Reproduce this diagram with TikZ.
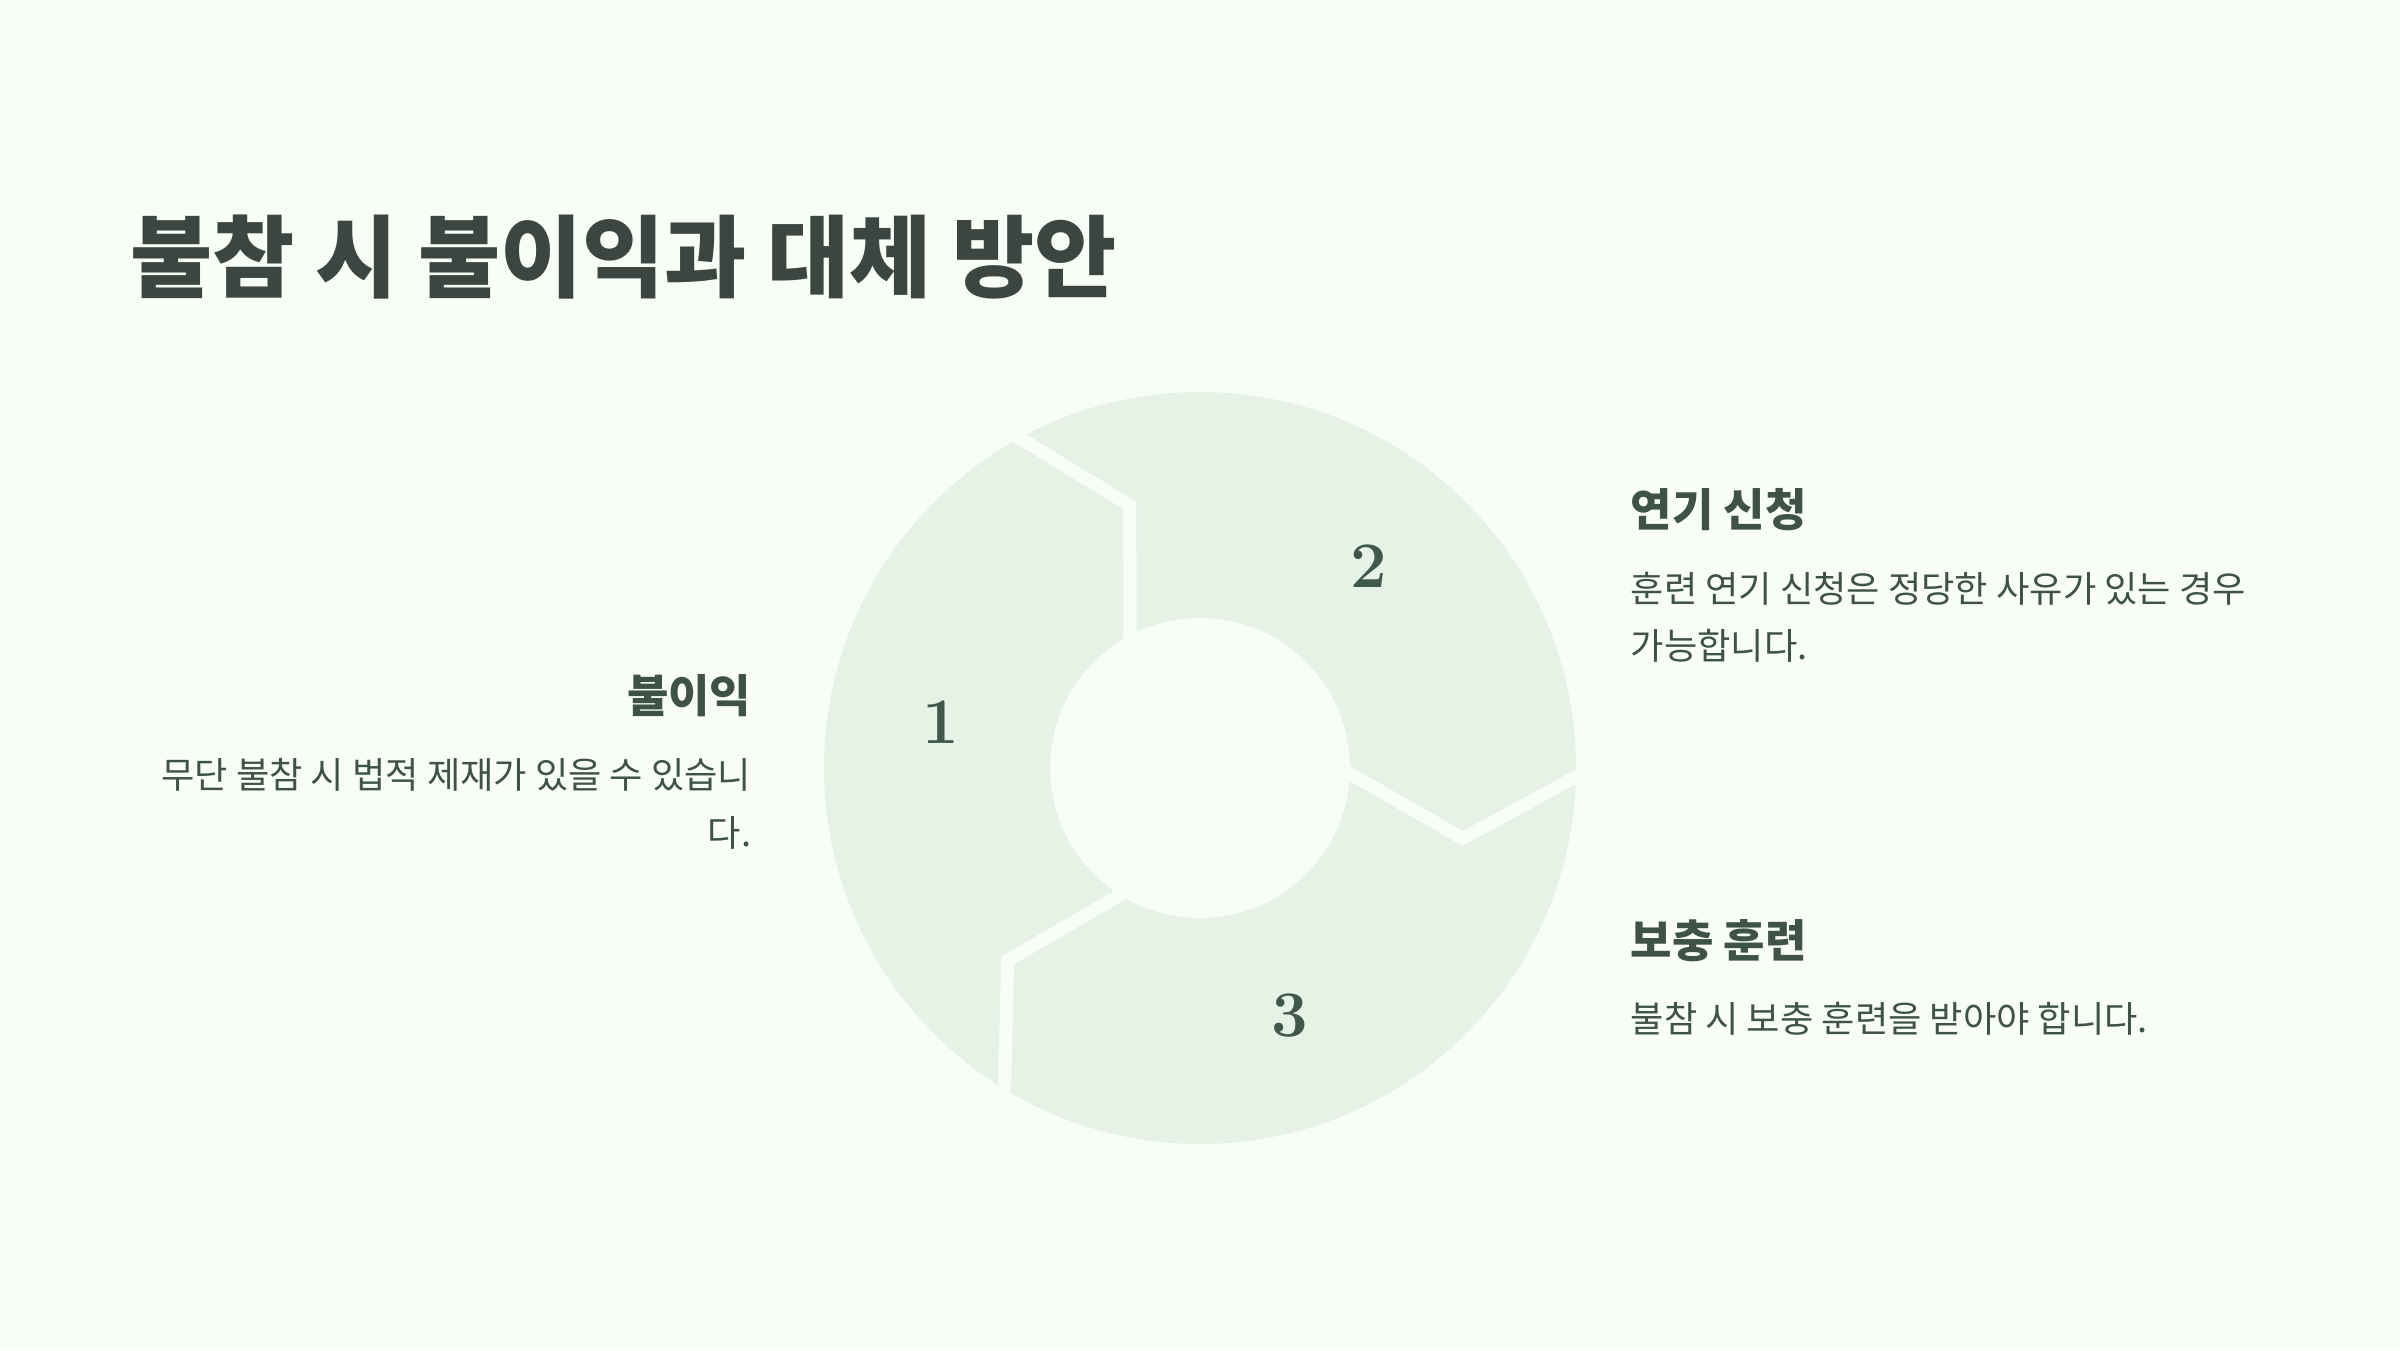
\documentclass[tikz,border=0pt]{standalone}
\usepackage{fontspec}
\newfontfamily\krfont{Noto Sans CJK KR}
\usetikzlibrary{positioning}

\definecolor{bgcol}{HTML}{F8FDF8}
\definecolor{ringcol}{HTML}{E7F2E7}
\definecolor{titlecol}{HTML}{3A463F}
\definecolor{textcol}{HTML}{3E5346}
\definecolor{numcol}{HTML}{40584A}

\tikzset{
    titletext/.style={inner sep=0pt, text=titlecol, font={\krfont\bfseries\fontsize{25.4}{30}\selectfont}},
    headtext/.style={inner sep=0pt, text=textcol, font={\krfont\bfseries\fontsize{12.8}{15}\selectfont}},
    bodytext/.style={inner sep=0pt, text=textcol, font={\krfont\fontsize{10.3}{16.3}\selectfont}},
    numtext/.style={inner sep=0pt, text=numcol, font={\bfseries\fontsize{18.5}{20}\selectfont}},
}

\begin{document}
\begin{tikzpicture}
    [
        x=0.01cm, y=0.01cm,
    ]
    
    \fill [bgcol] (0, 0) rectangle (2400, 1350);
    \useasboundingbox (0, 0) rectangle (2400, 1350);
    
    % ring
    \begin{scope}[shift={(1200, 582)}]
        \fill [ringcol, even odd rule] (0, 0) circle (376) (0, 0) circle (150);
        \foreach \a in {0, 120, 240} {
            \draw [bgcol, line width=0.13cm] (\a:140) -- (\a-15:272) -- (\a:392);
        }
        \node [numtext] (n1) at (170:263) {1};
        \node [numtext] (n2) at (50:263) {2};
        \node [numtext] (n3) at (-70:263) {3};
    \end{scope}
    
    \node [titletext, anchor=west] (title) at (130, 1093) {불참 시 불이익과 대체 방안};
    
    % left
    \node [headtext, anchor=east] (h1) at (752, 654) {불이익};
    \node [bodytext, anchor=north east, align=right] (b1) at (752, 592)
        {무단 불참 시 법적 제재가 있을 수 있습니\\다.};
    
    % right
    \node [headtext, anchor=west] (h2) at (1630, 840) {연기 신청};
    \node [bodytext, anchor=north west, align=left] (b2) at (1630, 779)
        {훈련 연기 신청은 정당한 사유가 있는 경우\\가능합니다.};
    \node [headtext, anchor=west] (h3) at (1630, 409) {보충 훈련};
    \node [bodytext, anchor=north west, align=left] (b3) at (1630, 349)
        {불참 시 보충 훈련을 받아야 합니다.};
    
\end{tikzpicture}
\end{document}
